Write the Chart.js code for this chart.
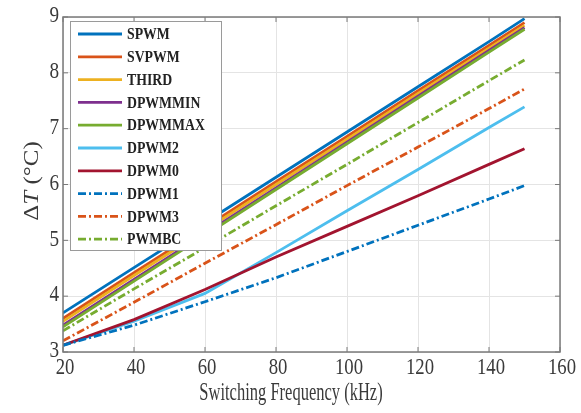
<!DOCTYPE html>
<html>
<head>
<meta charset="utf-8">
<script src="https://cdn.jsdelivr.net/npm/chart.js@4"></script>
<style>
html, body { margin: 0; padding: 0; background: #fff; }
#wrap { width: 581px; height: 413px; }
</style>
</head>
<body>
<div id="wrap"><canvas id="myChart" width="581" height="413"></canvas></div>
<script>
document.addEventListener('DOMContentLoaded', function () {

// switching frequency (kHz)
const freq = [20, 40, 60, 80, 100, 120, 140, 150];

// temperature rise for each modulation scheme
const spwm    = [3.70, 4.51, 5.32, 6.13, 6.94, 7.75, 8.56, 8.97];
const svpwm   = [3.60, 4.42, 5.23, 6.05, 6.86, 7.68, 8.49, 8.90];
const third   = [3.55, 4.37, 5.18, 6.00, 6.81, 7.63, 8.44, 8.85];
const dpwmmin = [3.48, 4.30, 5.12, 5.94, 6.76, 7.58, 8.40, 8.81];
const dpwmmax = [3.45, 4.27, 5.09, 5.91, 6.73, 7.55, 8.37, 8.78];
const dpwm2   = [3.12, 3.55, 4.05, 4.78, 5.53, 6.27, 7.02, 7.39];
const dpwm0   = [3.12, 3.58, 4.12, 4.70, 5.25, 5.80, 6.36, 6.64];
const dpwm1   = [3.12, 3.48, 3.90, 4.33, 4.80, 5.27, 5.74, 5.98];
const dpwm3   = [3.20, 3.89, 4.59, 5.28, 5.98, 6.67, 7.36, 7.71];
const pwmbc   = [3.38, 4.13, 4.87, 5.62, 6.36, 7.11, 7.86, 8.23];

const xTicks = [20, 40, 60, 80, 100, 120, 140, 160];
const yTicks = [3, 4, 5, 6, 7, 8, 9];

const dashDot = [8, 3, 2, 3];

// name, values, colour, dashed
const series = [
    ['SPWM', spwm, '#0072BD', false],
    ['SVPWM', svpwm, '#D95319', false],
    ['THIRD', third, '#EDB120', false],
    ['DPWMMIN', dpwmmin, '#7E2F8E', false],
    ['DPWMMAX', dpwmmax, '#77AC30', false],
    ['DPWM2', dpwm2, '#4DBEEE', false],
    ['DPWM0', dpwm0, '#A2142F', false],
    ['DPWM1', dpwm1, '#0072BD', true],
    ['DPWM3', dpwm3, '#D95319', true],
    ['PWMBC', pwmbc, '#77AC30', true],
];

const datasets = series.map((s, i) => ({
    label: s[0],
    data: freq.map((f, k) => ({ x: f, y: s[1][k] })),
    borderColor: s[2],
    backgroundColor: s[2],
    borderWidth: 2.8,
    borderDash: s[3] ? dashDot : [],
    pointRadius: 0,
    fill: false,
    tension: 0,
    order: series.length - i, // last one on top, like matlab
}));

const serif = "'Liberation Serif', 'DejaVu Serif', serif";
const frameColor = '#7a7a7a';

// the source picture is squeezed sideways, so text is drawn narrower
function squeezed(ctx, text, x, y, font, sx, align) {
    ctx.save();
    ctx.translate(x, y);
    ctx.scale(sx, 1);
    ctx.font = font;
    ctx.textAlign = align;
    ctx.fillText(text, 0, 0);
    ctx.restore();
}

// frame, inward ticks, labels, axis titles and legend box
const extras = {
    id: 'extras',
    afterDraw(chart) {
        const ctx = chart.ctx;
        const a = chart.chartArea;
        const xs = chart.scales.x, ys = chart.scales.y;
        ctx.save();

        ctx.strokeStyle = frameColor;
        ctx.lineWidth = 1.5;
        ctx.strokeRect(a.left, a.top, a.right - a.left, a.bottom - a.top);

        ctx.lineWidth = 1;
        xs.ticks.forEach(t => {
            const px = xs.getPixelForValue(t.value);
            ctx.beginPath();
            ctx.moveTo(px, a.bottom); ctx.lineTo(px, a.bottom - 5);
            ctx.moveTo(px, a.top); ctx.lineTo(px, a.top + 5);
            ctx.stroke();
        });
        ys.ticks.forEach(t => {
            const py = ys.getPixelForValue(t.value);
            ctx.beginPath();
            ctx.moveTo(a.left, py); ctx.lineTo(a.left + 5, py);
            ctx.moveTo(a.right, py); ctx.lineTo(a.right - 5, py);
            ctx.stroke();
        });

        // tick labels
        ctx.fillStyle = '#3a3a3a';
        ctx.textBaseline = 'middle';
        xs.ticks.forEach(t => {
            squeezed(ctx, String(t.value), xs.getPixelForValue(t.value) + 2, a.bottom + 16,
                '24px ' + serif, 0.78, 'center');
        });
        ys.ticks.forEach(t => {
            squeezed(ctx, String(t.value), a.left - 4, ys.getPixelForValue(t.value) - 1,
                '24px ' + serif, 0.8, 'right');
        });

        // x title
        squeezed(ctx, 'Switching Frequency (kHz)', 291, 393, '25px ' + serif, 0.66, 'center');

        // y title: ΔT (°C) with italic T
        ctx.save();
        ctx.translate(33, 181);
        ctx.rotate(-Math.PI / 2);
        ctx.scale(1, 0.8);
        const parts = [['Δ', ''], ['T', 'italic '], [' (°C)', '']];
        let total = 0;
        parts.forEach(p => { ctx.font = p[1] + '25px ' + serif; total += ctx.measureText(p[0]).width; });
        let cx = -total / 2;
        ctx.textAlign = 'left';
        parts.forEach(p => {
            ctx.font = p[1] + '25px ' + serif;
            ctx.fillText(p[0], cx, 0);
            cx += ctx.measureText(p[0]).width;
        });
        ctx.restore();

        // legend
        const lx = 70, ly = 21, lw = 151, lh = 229;
        ctx.fillStyle = '#fff';
        ctx.fillRect(lx, ly, lw, lh);
        ctx.strokeStyle = '#9a9a9a';
        ctx.lineWidth = 1;
        ctx.strokeRect(lx + 0.5, ly + 0.5, lw, lh);
        chart.data.datasets.forEach((ds, i) => {
            const y = 34 + i * 22.8;
            ctx.strokeStyle = ds.borderColor;
            ctx.lineWidth = 2.8;
            ctx.setLineDash(ds.borderDash);
            ctx.beginPath();
            ctx.moveTo(78, y); ctx.lineTo(122, y);
            ctx.stroke();
            ctx.setLineDash([]);
            ctx.fillStyle = '#222';
            squeezed(ctx, ds.label, 127, y + 1, 'bold 16px ' + serif, 0.86, 'left');
        });

        ctx.restore();
    }
};

const ctx = document.getElementById('myChart').getContext('2d');
new Chart(ctx, {
    type: 'line',
    data: { datasets: datasets },
    options: {
        responsive: false,
        devicePixelRatio: 1,
        animation: false,
        layout: { padding: { left: 0, right: 21, top: 17, bottom: 0 } },
        plugins: {
            legend: { display: false },
            tooltip: { enabled: false },
        },
        scales: {
            x: {
                type: 'linear',
                min: 20,
                max: 160,
                afterBuildTicks: s => { s.ticks = xTicks.map(v => ({ value: v })); },
                afterFit: s => { s.height = 61; },
                ticks: { display: false },
                grid: { color: '#e4e4e4', drawTicks: false },
                border: { display: false },
            },
            y: {
                min: 3,
                max: 9,
                afterBuildTicks: s => { s.ticks = yTicks.map(v => ({ value: v })); },
                afterFit: s => { s.width = 63; },
                ticks: { display: false },
                grid: { color: '#e4e4e4', drawTicks: false },
                border: { display: false },
            },
        },
    },
    plugins: [extras],
});

});
</script>
</body>
</html>
